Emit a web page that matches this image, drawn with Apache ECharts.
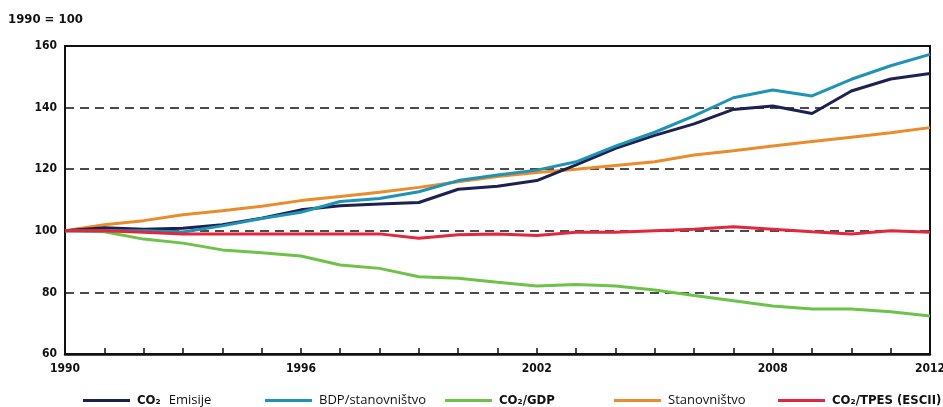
<!DOCTYPE html>
<html>
<head>
<meta charset="utf-8">
<script src="https://cdn.jsdelivr.net/npm/echarts@6/dist/echarts.min.js"></script>
<style>
  html, body { margin: 0; padding: 0; background: #fff; }
  #chart { width: 943px; height: 407px; }
</style>
</head>
<body>
<div id="chart"></div>
<script>
// godine i indeksi (1990 = 100)
const years = ['1990', '1991', '1992', '1993', '1994', '1995', '1996', '1997', '1998', '1999', '2000',
  '2001', '2002', '2003', '2004', '2005', '2006', '2007', '2008', '2009', '2010', '2011', '2012']
const co2Emisije = [100, 101, 100.5, 100.8, 102, 104.1, 106.8, 108.1, 108.7, 109.2, 113.5,
  114.5, 116.3, 121.4, 126.8, 131, 134.7, 139.4, 140.5, 138.1, 145.4, 149.3, 151.1]
const bdpStan = [100, 100, 100, 99.6, 101.6, 104, 106, 109.5, 110.5, 112.7, 116.3,
  118.1, 119.7, 122.4, 127.5, 132, 137.3, 143.2, 145.7, 143.8, 149.2, 153.6, 157.3]
const co2Gdp = [100, 99.7, 97.3, 96, 93.8, 92.9, 91.8, 88.9, 87.8, 85.1, 84.6,
  83.3, 82.1, 82.6, 82.1, 80.8, 79, 77.3, 75.6, 74.6, 74.6, 73.7, 72.3]
const stanovnistvo = [100, 102, 103.3, 105.2, 106.5, 108, 109.8, 111.1, 112.5, 114.1, 115.9,
  117.6, 118.9, 120, 121.2, 122.4, 124.6, 126, 127.5, 129, 130.4, 131.8, 133.5]
const co2Tpes = [100, 100, 99.5, 99, 99, 99, 99, 99, 99, 97.6, 98.7,
  99, 98.5, 99.5, 99.5, 100, 100.5, 101.3, 100.5, 99.7, 99, 100, 99.5]
const yTicks = [60, 80, 100, 120, 140, 160]

const condFont = '"DejaVu Sans Condensed", "Liberation Sans Narrow", sans-serif'
const regFont = '"Open Sans", "Noto Sans", sans-serif'

const names = ['CO₂ Emisije', 'BDP/stanovništvo', 'CO₂/GDP', 'Stanovništvo', 'CO₂/TPES (ESCII)']
const colors = ['#1c2150', '#1e93b4', '#6ec24a', '#ea8b2c', '#e2263c']
const legendLeft = [78, 260, 440, 609, 773]
const legendFont = [condFont, regFont, condFont, regFont, condFont]
const legendWeight = ['bold', 'normal', 'bold', 'normal', 'bold']

const chart = echarts.init(document.getElementById('chart'))

const option = {
  animation: false,
  title: {
    text: '1990 = 100',
    left: 3,
    top: 8,
    textStyle: { fontFamily: condFont, fontWeight: 'bold', fontSize: 13, color: '#111' }
  },
  color: colors,
  legend: names.map((n, i) => ({
    data: [n],
    left: legendLeft[i],
    top: 389,
    icon: 'rect',
    itemWidth: 47,
    itemHeight: 3,
    itemGap: 10,
    // "CO₂" podebljano, "Emisije" obicno
    formatter: i === 0 ? () => '{b|CO₂}  {r|Emisije}' : undefined,
    textStyle: {
      fontFamily: legendFont[i],
      fontWeight: legendWeight[i],
      fontSize: 13,
      color: '#111',
      padding: [0, 0, 0, 2],
      rich: {
        b: { fontFamily: condFont, fontWeight: 'bold', fontSize: 13, color: '#111' },
        r: { fontFamily: regFont, fontWeight: 'normal', fontSize: 13, color: '#111' }
      }
    }
  })),
  grid: {
    left: 65, right: 13, top: 46, bottom: 53,
    outerBoundsMode: 'none',
    containLabel: false,
    show: true,
    borderColor: '#111',
    borderWidth: 2
  },
  xAxis: {
    type: 'category',
    data: years,
    boundaryGap: false,
    axisLine: { lineStyle: { color: '#111', width: 2.5 } },
    axisTick: { inside: true, length: 6, interval: 0, lineStyle: { color: '#111', width: 1.5 } },
    axisLabel: {
      interval: (i) => i % 6 === 0 || i === years.length - 1,
      fontFamily: condFont, fontWeight: 'bold', fontSize: 12, color: '#111', margin: 9
    },
    splitLine: { show: false }
  },
  yAxis: {
    type: 'value',
    min: yTicks[0],
    max: yTicks[yTicks.length - 1],
    interval: 20,
    axisLine: { show: true, lineStyle: { color: '#111', width: 2 } },
    axisTick: { show: false },
    axisLabel: { fontFamily: condFont, fontWeight: 'bold', fontSize: 12, color: '#111', margin: 8 },
    splitLine: { lineStyle: { color: '#111', width: 1.5, type: [9, 6] } }
  },
  series: [
    { name: names[0], data: co2Emisije },
    { name: names[1], data: bdpStan },
    { name: names[2], data: co2Gdp },
    { name: names[3], data: stanovnistvo },
    { name: names[4], data: co2Tpes }
  ].map((s, i) => ({
    ...s,
    type: 'line',
    symbol: 'none',
    lineStyle: { width: 3, color: colors[i] },
    z: [3, 4, 2, 2, 5][i]
  }))
}

chart.setOption(option)
</script>
</body>
</html>
